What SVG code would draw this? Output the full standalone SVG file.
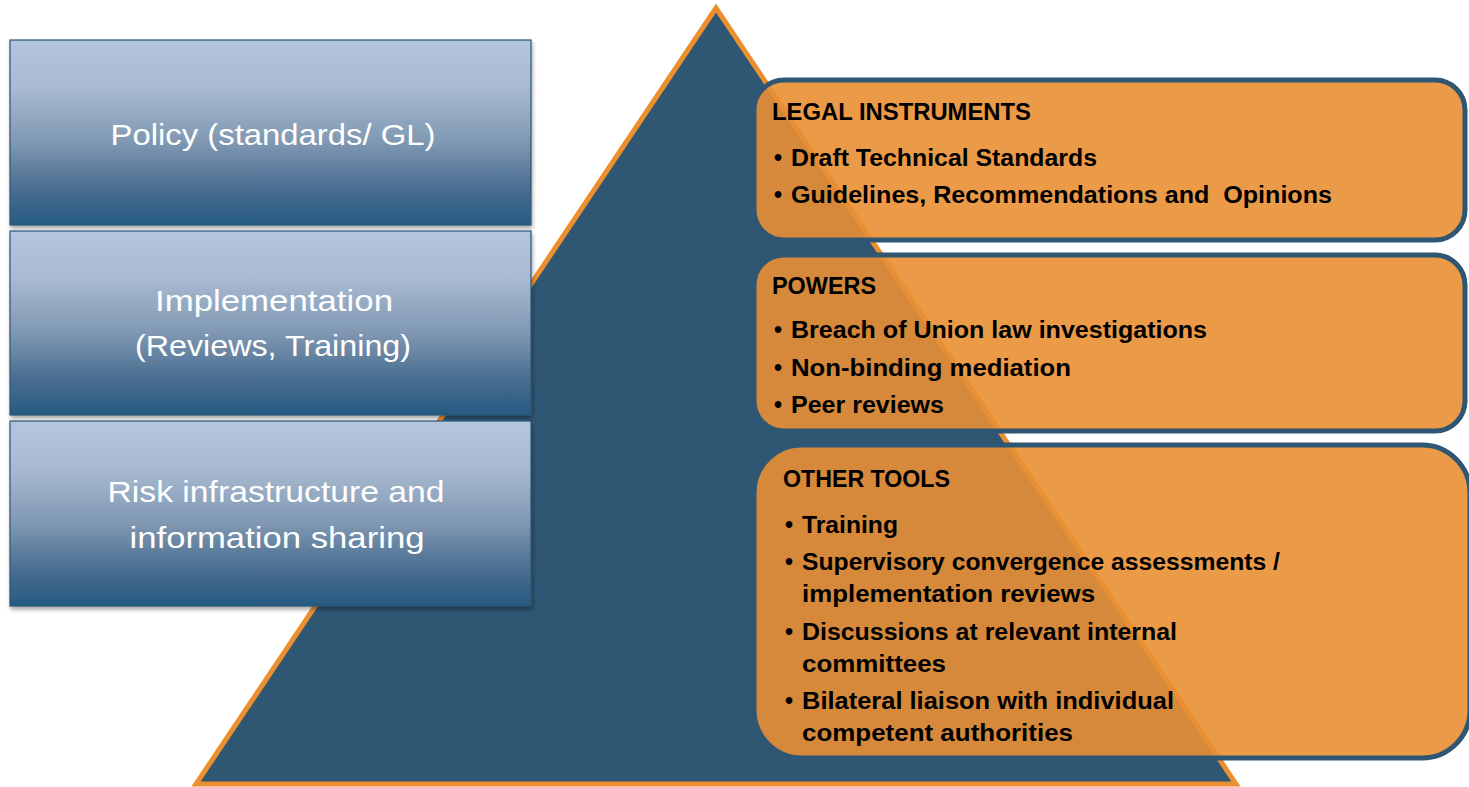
<svg xmlns="http://www.w3.org/2000/svg" width="1469" height="787" viewBox="0 0 1469 787">
  <defs>
    <linearGradient id="tierFill" x1="0" y1="0" x2="0" y2="1">
      <stop offset="0" stop-color="#b4c6dd"/>
      <stop offset="0.25" stop-color="#a9bbd2"/>
      <stop offset="0.55" stop-color="#8098b2"/>
      <stop offset="0.8" stop-color="#4a6e91"/>
      <stop offset="1" stop-color="#265a81"/>
    </linearGradient>
    <filter id="shadow" x="-5%" y="-5%" width="110%" height="115%">
      <feGaussianBlur in="SourceAlpha" stdDeviation="2"/>
      <feOffset dx="1" dy="3" result="b"/>
      <feComponentTransfer><feFuncA type="linear" slope="0.35"/></feComponentTransfer>
      <feMerge><feMergeNode/><feMergeNode in="SourceGraphic"/></feMerge>
    </filter>
  </defs>
  <style>
    .tier { fill: url(#tierFill); stroke: #2b5677; stroke-width: 1.2; filter: url(#shadow); }
    .tierText { font-family: "Liberation Sans", Arial, sans-serif; font-size: 29px; fill: #ffffff; text-anchor: middle; }
    .panel { fill: #e98f34; fill-opacity: 0.9; stroke: #2f5672; stroke-width: 5; }
    .head { font-family: "Liberation Sans", Arial, sans-serif; font-size: 23px; font-weight: bold; fill: #000000; }
    .item { font-family: "Liberation Sans", Arial, sans-serif; font-size: 23px; font-weight: bold; fill: #000000; }
  </style>

  <rect width="1469" height="787" fill="#ffffff"/>

  <!-- pyramid -->
  <g id="pyramid">
    <polygon points="716,8 196,784 1236,784" fill="#2f5672" stroke="#ec8f2f" stroke-width="5" stroke-linejoin="miter"/>
  </g>

  <!-- left tiers -->
  <g id="tier-policy">
    <rect class="tier" x="10" y="40" width="521" height="185"/>
    <text class="tierText" x="273" y="145" textLength="325" lengthAdjust="spacingAndGlyphs">Policy (standards/ GL)</text>
  </g>
  <g id="tier-implementation">
    <rect class="tier" x="10" y="231" width="521" height="184"/>
    <text class="tierText" x="274" y="311" textLength="238" lengthAdjust="spacingAndGlyphs">Implementation</text>
    <text class="tierText" x="273" y="356" textLength="276" lengthAdjust="spacingAndGlyphs">(Reviews, Training)</text>
  </g>
  <g id="tier-risk">
    <rect class="tier" x="10" y="421" width="521" height="185"/>
    <text class="tierText" x="276" y="502" textLength="337" lengthAdjust="spacingAndGlyphs">Risk infrastructure and</text>
    <text class="tierText" x="277" y="548" textLength="295" lengthAdjust="spacingAndGlyphs">information sharing</text>
  </g>

  <!-- right panels -->
  <g id="panel-legal">
    <rect class="panel" x="754" y="80" width="711" height="160" rx="30" ry="30"/>
    <text class="head" x="772" y="120" textLength="259" lengthAdjust="spacingAndGlyphs">LEGAL INSTRUMENTS</text>
    <text class="item" x="774" y="166">•</text>
    <text class="item" x="791" y="166" textLength="306" lengthAdjust="spacingAndGlyphs">Draft Technical Standards</text>
    <text class="item" x="774" y="203">•</text>
    <text class="item" x="791" y="203" textLength="541" lengthAdjust="spacingAndGlyphs" xml:space="preserve">Guidelines, Recommendations and  Opinions</text>
  </g>
  <g id="panel-powers">
    <rect class="panel" x="754" y="255" width="711" height="176" rx="30" ry="30"/>
    <text class="head" x="772" y="294" textLength="104" lengthAdjust="spacingAndGlyphs">POWERS</text>
    <text class="item" x="774" y="338">•</text>
    <text class="item" x="791" y="338" textLength="416" lengthAdjust="spacingAndGlyphs">Breach of Union law investigations</text>
    <text class="item" x="774" y="376">•</text>
    <text class="item" x="791" y="376" textLength="280" lengthAdjust="spacingAndGlyphs">Non-binding mediation</text>
    <text class="item" x="774" y="413">•</text>
    <text class="item" x="791" y="413" textLength="153" lengthAdjust="spacingAndGlyphs">Peer reviews</text>
  </g>
  <g id="panel-tools">
    <rect class="panel" x="754" y="445" width="716" height="313" rx="48" ry="48"/>
    <text class="head" x="783" y="487" textLength="167" lengthAdjust="spacingAndGlyphs">OTHER TOOLS</text>
    <text class="item" x="785" y="533">•</text>
    <text class="item" x="802" y="533" textLength="96" lengthAdjust="spacingAndGlyphs">Training</text>
    <text class="item" x="785" y="570">•</text>
    <text class="item" x="802" y="570" textLength="478" lengthAdjust="spacingAndGlyphs">Supervisory convergence assessments /</text>
    <text class="item" x="802" y="602" textLength="293" lengthAdjust="spacingAndGlyphs">implementation reviews</text>
    <text class="item" x="785" y="640">•</text>
    <text class="item" x="802" y="640" textLength="375" lengthAdjust="spacingAndGlyphs">Discussions at relevant internal</text>
    <text class="item" x="802" y="672" textLength="144" lengthAdjust="spacingAndGlyphs">committees</text>
    <text class="item" x="785" y="709">•</text>
    <text class="item" x="802" y="709" textLength="372" lengthAdjust="spacingAndGlyphs">Bilateral liaison with individual</text>
    <text class="item" x="802" y="741" textLength="271" lengthAdjust="spacingAndGlyphs">competent authorities</text>
  </g>

  <!-- connectors: none in this figure -->
  <g id="connectors"/>
</svg>
